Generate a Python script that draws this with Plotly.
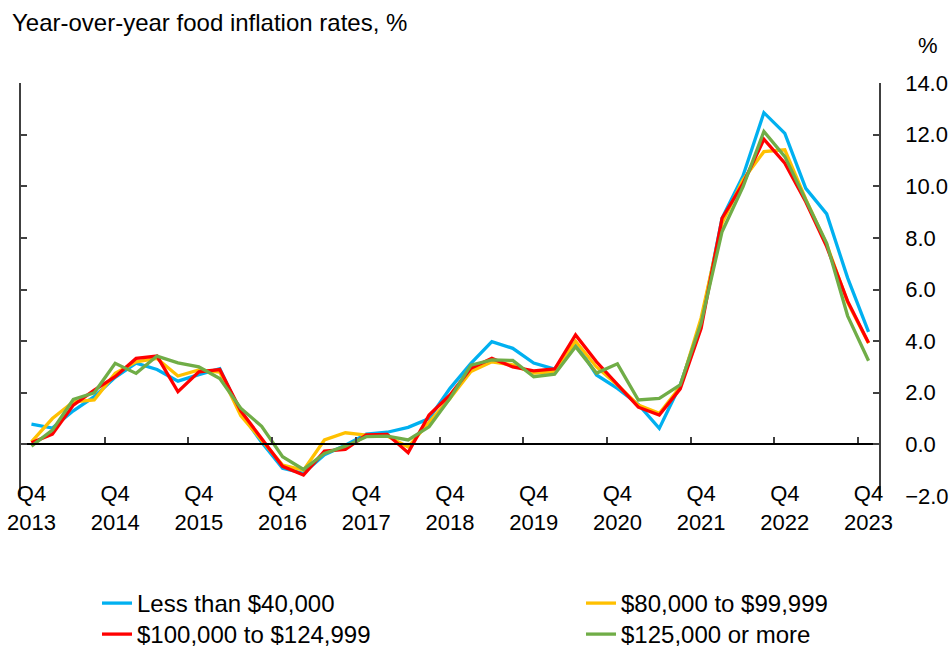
import plotly.graph_objects as go

quarters = [
    "Q4 2013", "Q1 2014", "Q2 2014", "Q3 2014", "Q4 2014", "Q1 2015", "Q2 2015", "Q3 2015",
    "Q4 2015", "Q1 2016", "Q2 2016", "Q3 2016", "Q4 2016", "Q1 2017", "Q2 2017", "Q3 2017",
    "Q4 2017", "Q1 2018", "Q2 2018", "Q3 2018", "Q4 2018", "Q1 2019", "Q2 2019", "Q3 2019",
    "Q4 2019", "Q1 2020", "Q2 2020", "Q3 2020", "Q4 2020", "Q1 2021", "Q2 2021", "Q3 2021",
    "Q4 2021", "Q1 2022", "Q2 2022", "Q3 2022", "Q4 2022", "Q1 2023", "Q2 2023", "Q3 2023",
    "Q4 2023",
]

less_than_40k = [0.78, 0.63, 1.30, 1.85, 2.60, 3.15, 2.90, 2.45, 2.70, 2.93, 1.22, 0.08, -0.93,
                 -1.12, -0.40, -0.03, 0.40, 0.47, 0.66, 1.00, 2.17, 3.14, 3.98, 3.72, 3.15, 2.92,
                 3.95, 2.69, 2.17, 1.55, 0.62, 2.30, 4.70, 8.76, 10.40, 12.85, 12.05, 9.92, 8.93,
                 6.45, 4.36]
from_80k_to_99k = [0.10, 1.00, 1.65, 1.72, 2.75, 3.20, 3.33, 2.65, 2.88, 2.80, 1.12, 0.17, -0.80,
                   -1.00, 0.17, 0.45, 0.36, 0.32, -0.10, 0.85, 1.78, 2.82, 3.20, 3.08, 2.76, 2.82,
                   4.00, 3.00, 2.30, 1.52, 1.20, 2.23, 4.90, 8.57, 10.25, 11.34, 11.41, 9.50, 7.75,
                   5.50, 3.92]
from_100k_to_124k = [0.06, 0.40, 1.52, 2.10, 2.62, 3.33, 3.42, 2.04, 2.81, 2.90, 1.30, 0.25, -0.85,
                     -1.19, -0.26, -0.19, 0.37, 0.39, -0.32, 1.14, 1.91, 2.95, 3.33, 3.00, 2.85, 2.92,
                     4.24, 3.20, 2.30, 1.44, 1.14, 2.15, 4.50, 8.76, 10.10, 11.82, 10.89, 9.40, 7.66,
                     5.55, 3.94]
over_125k = [-0.07, 0.55, 1.74, 2.00, 3.14, 2.75, 3.42, 3.16, 3.00, 2.55, 1.40, 0.70, -0.48,
             -0.97, -0.35, -0.07, 0.30, 0.32, 0.17, 0.68, 1.78, 3.07, 3.27, 3.25, 2.62, 2.72,
             3.78, 2.76, 3.12, 1.72, 1.78, 2.30, 4.70, 8.24, 9.98, 12.12, 11.15, 9.47, 7.79,
             4.98, 3.24]

series_names = ["Less than $40,000", "$80,000 to $99,999", "$100,000 to $124,999", "$125,000 or more"]
series_values = [less_than_40k, from_80k_to_99k, from_100k_to_124k, over_125k]
series_colors = ["#00B0F0", "#FFC000", "#FF0000", "#70AD47"]
series_legend = ["legend", "legend2", "legend3", "legend4"]

y_range = [-2, 14]
y_tick_step = 2

title_text = "Year-over-year food inflation rates, %"
unit_text = "%"

FONT = "Liberation Sans, Arial, sans-serif"
W, H = 950, 647

# target positions in page pixels
left_px, right_px = 21, 879
top_px = 83
axis_bottom_px = 496                   # y = -2
plot_bottom_px = 547                   # bottom of plotting area (below the axes)
label_axis_px = 478                    # x tick label row
area_h = plot_bottom_px - top_px
area_w = right_px - left_px
d0 = (plot_bottom_px - axis_bottom_px) / area_h
zero_pos = d0 + (0 - y_range[0]) / (y_range[1] - y_range[0]) * (1 - d0)
label_pos = (plot_bottom_px - label_axis_px) / area_h


def px_x(page_px):
    return (page_px - left_px) / area_w


def px_y(page_py):
    return (plot_bottom_px - page_py) / area_h


x_idx = list(range(len(quarters)))
q4_idx = [i for i, q in enumerate(quarters) if q.startswith("Q4")]
q4_text = [quarters[i].replace(" ", "<br>") for i in q4_idx]
boundary_ticks = [i - 0.5 for i in q4_idx]

fig = go.Figure()
for name, vals, col, lg in zip(series_names, series_values, series_colors, series_legend):
    fig.add_trace(go.Scatter(x=x_idx, y=vals, name=name, mode="lines", legend=lg,
                             line=dict(color=col, width=3.3), xaxis="x", yaxis="y"))
# empty helper trace so the zero-line axis (x2) is drawn
fig.add_trace(go.Scatter(x=[], y=[], xaxis="x2", yaxis="y", showlegend=False,
                         hoverinfo="skip", mode="lines"))

x_rng = [-0.5, len(quarters) - 0.5]
axis_grey = "#404040"
legend_font = dict(family=FONT, size=24, color="black")


def legend_box(left_page_px, top_page_px):
    return dict(orientation="v", xref="container", yref="container",
                x=left_page_px / W, xanchor="left", y=1 - top_page_px / H, yanchor="top",
                font=legend_font, tracegroupgap=0, bgcolor="rgba(0,0,0,0)")


fig.update_layout(
    width=W, height=H,
    margin=dict(l=left_px, r=W - right_px, t=top_px, b=H - plot_bottom_px, pad=0,
                autoexpand=False),
    paper_bgcolor="white", plot_bgcolor="white",
    font=dict(family=FONT, size=22, color="black"),
    showlegend=True,
    legend=legend_box(97, 581),
    legend2=legend_box(581, 581),
    legend3=legend_box(97, 612),
    legend4=legend_box(581, 612),
    xaxis=dict(range=x_rng, domain=[0, 1], anchor="free", position=label_pos,
               showline=False, ticks="", showgrid=False, zeroline=False,
               tickmode="array", tickvals=q4_idx, ticktext=q4_text,
               ticklabeloverflow="allow",
               tickfont=dict(family=FONT, size=22, color="black")),
    xaxis2=dict(range=x_rng, overlaying="x", anchor="free", position=zero_pos,
                showline=True, linecolor="black", linewidth=2,
                ticks="inside", ticklen=6, tickwidth=1.5, tickcolor=axis_grey,
                tickmode="array", tickvals=boundary_ticks, showticklabels=False,
                showgrid=False, zeroline=False),
    yaxis=dict(range=y_range, domain=[d0, 1], anchor="x", side="right", mirror="ticks",
               showline=True, linecolor=axis_grey, linewidth=1.5,
               ticks="inside", ticklen=6, tickwidth=1.5, tickcolor=axis_grey,
               dtick=y_tick_step, tick0=y_range[0], tickformat=".1f",
               ticklabelstandoff=20, ticklabeloverflow="allow",
               tickfont=dict(family=FONT, size=22, color="black"),
               showgrid=False, zeroline=False),
    annotations=[
        dict(text=title_text, xref="paper", yref="paper",
             x=px_x(10), y=px_y(22), xanchor="left", yanchor="middle",
             showarrow=False, font=dict(family=FONT, size=24, color="black")),
        dict(text=unit_text, xref="paper", yref="paper",
             x=px_x(928), y=px_y(45), xanchor="center", yanchor="middle",
             showarrow=False, font=dict(family=FONT, size=22, color="black")),
    ],
)

fig.write_html(
    "out.html",
    config={"displayModeBar": False},
    post_script="document.body.style.margin='0';document.body.style.overflow='hidden';",
)
